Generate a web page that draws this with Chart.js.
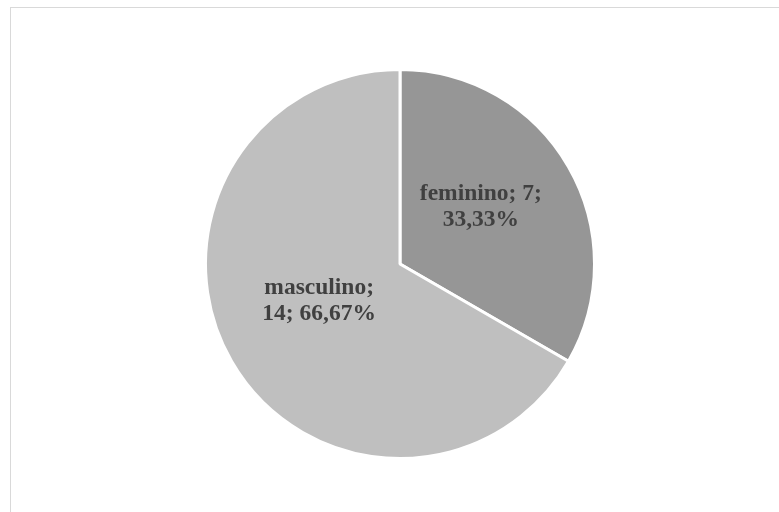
<!DOCTYPE html>
<html>
<head>
<meta charset="utf-8">
<script src="https://cdn.jsdelivr.net/npm/chart.js@4/dist/chart.umd.min.js"></script>
<style>
html,body{margin:0;padding:0;background:#fff;}
#wrap{width:779px;height:512px;position:relative;}
</style>
</head>
<body>
<div id="wrap"><canvas id="c" width="779" height="512"></canvas></div>
<script>
const categories = ["feminino", "masculino"];
const values = [7, 14];
const percentLabels = ["33,33%", "66,67%"];
const labelLines = [["feminino; 7;", "33,33%"], ["masculino;", "14; 66,67%"]];
const colors = ["#969696", "#bfbfbf"];

const framePlugin = {
  id: 'frame',
  beforeDraw(chart) {
    const ctx = chart.ctx;
    ctx.save();
    ctx.fillStyle = '#ffffff';
    ctx.fillRect(0, 0, chart.width, chart.height);
    ctx.strokeStyle = '#d9d9d9';
    ctx.lineWidth = 1;
    ctx.strokeRect(10.5, 7.5, chart.width + 20, chart.height + 20);
    ctx.restore();
  }
};

const labelPlugin = {
  id: 'sliceLabels',
  afterDatasetsDraw(chart) {
    const ctx = chart.ctx;
    const meta = chart.getDatasetMeta(0);
    ctx.save();
    ctx.font = 'bold 23.5px "Liberation Serif", "Times New Roman", serif';
    ctx.fillStyle = '#404040';
    ctx.textAlign = 'center';
    ctx.textBaseline = 'middle';
    meta.data.forEach((arc, i) => {
      const p = arc.getProps(['x', 'y', 'startAngle', 'endAngle', 'outerRadius'], true);
      const mid = (p.startAngle + p.endAngle) / 2;
      const r = p.outerRadius * 0.48;
      const cx = p.x + Math.cos(mid) * r;
      const cy = p.y + Math.sin(mid) * r - 10;
      const lines = labelLines[i];
      const lh = 26;
      lines.forEach((t, k) => {
        ctx.fillText(t, cx, cy + (k - (lines.length - 1) / 2) * lh);
      });
    });
    ctx.restore();
  }
};

new Chart(document.getElementById('c'), {
  type: 'pie',
  data: {
    labels: categories,
    datasets: [{
      data: values,
      backgroundColor: colors,
      borderColor: '#ffffff',
      borderWidth: 3
    }]
  },
  options: {
    responsive: false,
    animation: false,
    layout: { padding: { top: 68, bottom: 52, left: 21, right: 0 } },
    plugins: {
      legend: { display: false },
      tooltip: { enabled: false }
    }
  },
  plugins: [framePlugin, labelPlugin]
});
</script>
</body>
</html>
